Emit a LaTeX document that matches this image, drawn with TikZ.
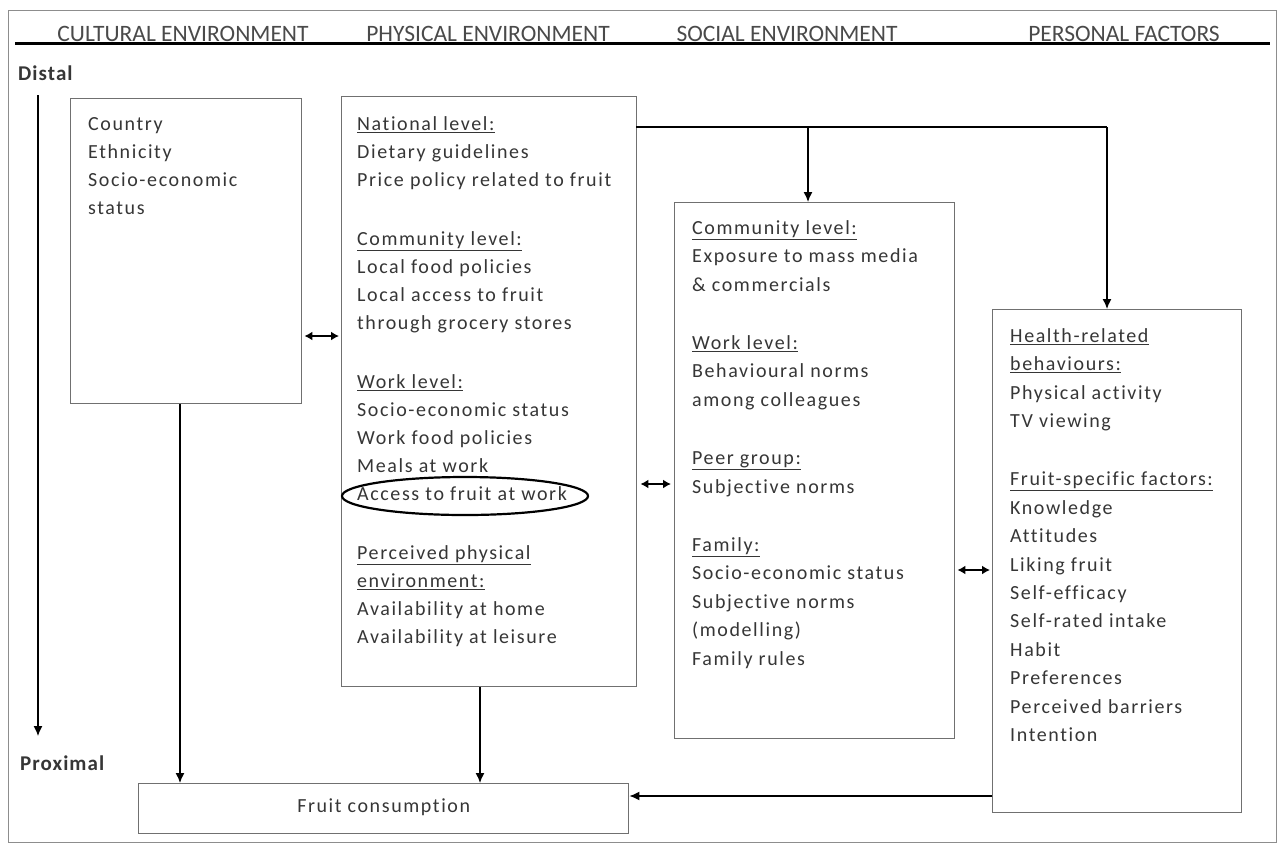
\documentclass[tikz,border=0pt]{standalone}
\usepackage{fontspec}
\setmainfont{Carlito}
\newfontfamily\bodyfont[LetterSpace=8,Ligatures={NoCommon}]{Carlito}
\newfontfamily\sidefont[LetterSpace=5,Ligatures={NoCommon}]{Carlito}
\usetikzlibrary{arrows.meta,shapes.geometric}
\definecolor{txt}{HTML}{363636}
\definecolor{frm}{HTML}{707070}
\newcommand{\fl}{\rule{0pt}{16pt}}
\begin{document}
\begin{tikzpicture}[x=1pt,y=-1pt,
  box/.style={draw=frm,line width=1.4pt,rectangle,inner sep=0pt,anchor=north west},
  boxtext/.style={anchor=north west,inner sep=0pt,align=left,text=txt,font=\bodyfont\fontsize{20}{28}\selectfont},
  head/.style={anchor=base,inner sep=0pt,text=txt!90,font=\fontsize{23.5}{25}\selectfont},
  side/.style={anchor=base west,inner sep=0pt,text=txt,font=\sidefont\bfseries\fontsize{21}{22}\selectfont},
  conn/.style={line width=1.4pt,-{Latex[length=10pt,width=9pt]}},
  dbl/.style={line width=2pt,{Latex[length=8pt,width=9pt]}-{Latex[length=8pt,width=9pt]}}]
\useasboundingbox (0,0) rectangle (1282,847);
\fill[white] (0,0) rectangle (1282,847);
\draw[frm!80,line width=1pt] (8,10) rectangle (1276,842);
% headers
\node[head] (h1) at (183,41) {CULTURAL ENVIRONMENT};
\node[head] (h2) at (488,41) {PHYSICAL ENVIRONMENT};
\node[head] (h3) at (787,41) {SOCIAL ENVIRONMENT};
\node[head] (h4) at (1124,41) {PERSONAL FACTORS};
\coordinate (hl) at (15,43);
\coordinate (hr) at (1270,43);
\draw[line width=3pt] (hl) -- (hr);
% distal / proximal
\node[side] (distal) at (18,80) {Distal};
\node[side] (prox) at (20,770) {Proximal};
\coordinate (da) at (38,95);
\coordinate (db) at (38,736);
\draw[conn,line width=1.3pt] (da) -- (db);
% boxes
\node[box,minimum width=231pt,minimum height=305pt] (b1) at (70,98) {};
\node[box,minimum width=295pt,minimum height=590pt] (b2) at (341,96) {};
\node[box,minimum width=280pt,minimum height=536pt] (b3) at (674,202) {};
\node[box,minimum width=249pt,minimum height=503pt] (b4) at (992,309) {};
\node[box,minimum width=490pt,minimum height=50pt] (b5) at (138,783) {};
\node[text=txt,font=\bodyfont\fontsize{20}{22}\selectfont] (fc) at ([yshift=1pt]b5.center) {Fruit consumption};
% texts
\node[boxtext] (t1) at (88,114) {\fl Country\\Ethnicity\\Socio-economic\\status};
\node[boxtext] (t2) at (357,114) {\fl\underline{National level:}\\Dietary guidelines\\Price policy related to fruit\\[31pt]
\underline{Community level:}\\Local food policies\\Local access to fruit\\through grocery stores\\[31pt]
\underline{Work level:}\\Socio-economic status\\Work food policies\\Meals at work\\Access to fruit at work\\[31pt]
\underline{Perceived physical}\\\underline{environment:}\\Availability at home\\Availability at leisure};
\node[boxtext,font=\bodyfont\fontsize{20}{28.4}\selectfont] (t3) at (692,218) {\fl\underline{Community level:}\\Exposure to mass media\\\& commercials\\[30pt]
\underline{Work level:}\\Behavioural norms\\among colleagues\\[30pt]
\underline{Peer group:}\\Subjective norms\\[30pt]
\underline{Family:}\\Socio-economic status\\Subjective norms\\(modelling)\\Family rules};
\node[boxtext,font=\bodyfont\fontsize{20}{28.4}\selectfont] (t4) at (1010,326) {\fl\underline{Health-related}\\\underline{behaviours:}\\Physical activity\\TV viewing\\[30pt]
\underline{Fruit-specific factors:}\\Knowledge\\Attitudes\\Liking fruit\\Self-efficacy\\Self-rated intake\\Habit\\Preferences\\Perceived barriers\\Intention};
% ellipse
\node[draw,ellipse,line width=2.2pt,minimum width=246pt,minimum height=38pt,inner sep=0pt] (ell) at (465,496) {};
% connectors
\coordinate (c1) at (636,127);
\coordinate (c2) at (808,127);
\coordinate (c3) at (1107,127);
\draw[line width=2.6pt] (c1) -- (c3);
\draw[conn] (c2) -- (c2 |- b3.north);
\draw[conn] (c3) -- (c3 |- b4.north);
\draw[dbl] ([xshift=2pt]b1.east |- 0,336) -- ([xshift=-2pt]b2.west |- 0,336);
\draw[dbl] ([xshift=3pt]b2.east |- 0,484) -- ([xshift=-3pt]b3.west |- 0,484);
\draw[dbl] ([xshift=2pt]b3.east |- 0,570) -- ([xshift=-2pt]b4.west |- 0,570);
\draw[conn] (b1.south -| 180,0) -- (b5.north -| 180,0);
\draw[conn] (b2.south -| 480,0) -- (b5.north -| 480,0);
\draw[conn] (b4.west |- 0,796) -- (b5.east |- 0,796);
\end{tikzpicture}
\end{document}
